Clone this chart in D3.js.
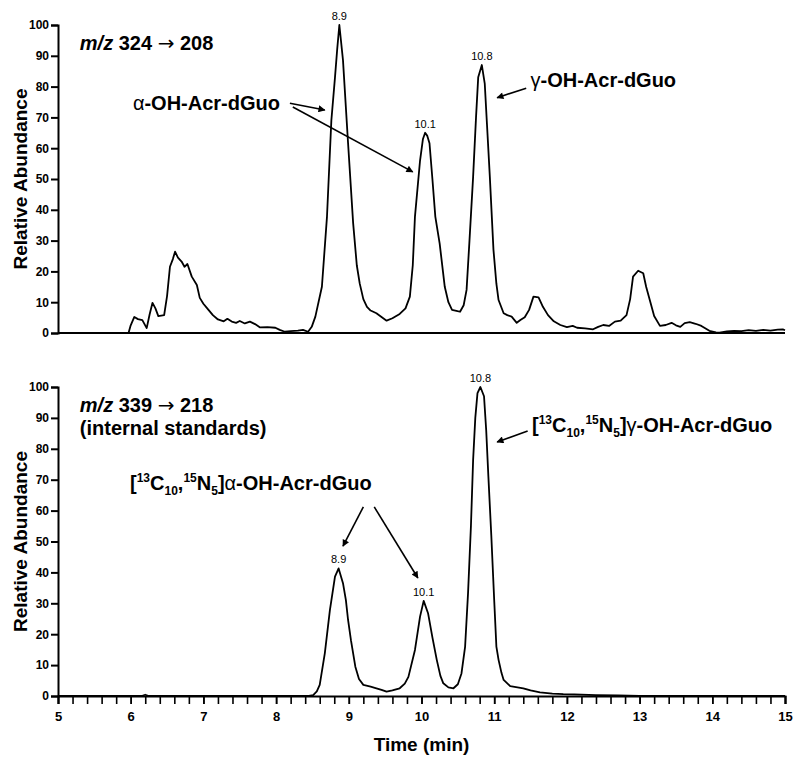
<!DOCTYPE html>
<html>
<head>
<meta charset="utf-8">
<script src="https://cdn.jsdelivr.net/npm/d3@7"></script>
<style>
body { margin:0; background:#fff; }
text { font-family: "Liberation Sans", Arial, sans-serif; fill:#000; }
</style>
</head>
<body>
<div id="chart"></div>
<script>
// time (min), relative abundance
var topTrace = [[5.0,0],[5.97,0],[6.0,2.5],[6.05,5.2],[6.1,4.5],[6.16,4.2],[6.22,1.6],[6.26,6],[6.30,9.8],[6.34,8],[6.38,5.5],[6.46,5.8],[6.50,12],[6.54,21.5],[6.58,24],[6.61,26.4],[6.65,24.5],[6.70,23.2],[6.74,21.5],[6.78,22.4],[6.84,18.3],[6.91,15.6],[6.95,11.4],[7.0,9.5],[7.07,7.5],[7.13,5.8],[7.2,4.4],[7.28,3.8],[7.33,4.6],[7.39,3.7],[7.45,3.3],[7.5,3.9],[7.57,3.1],[7.64,3.7],[7.71,2.9],[7.78,1.8],[7.88,1.9],[7.99,1.7],[8.05,1.0],[8.12,0.4],[8.2,0.6],[8.3,0.8],[8.37,1.0],[8.44,0.4],[8.49,2],[8.54,5.3],[8.63,15],[8.70,37.8],[8.76,69],[8.81,83],[8.84,92],[8.87,100],[8.92,88.6],[8.99,61.6],[9.06,35.6],[9.11,22],[9.15,16.1],[9.2,11],[9.25,8.5],[9.3,7.3],[9.38,6.4],[9.45,5.2],[9.52,4.0],[9.6,4.8],[9.7,6.2],[9.78,8],[9.84,11.8],[9.88,22],[9.91,37.8],[9.98,56],[10.02,63],[10.05,65],[10.08,64],[10.11,61.6],[10.15,50],[10.19,37.8],[10.25,29],[10.32,15],[10.37,10],[10.42,7.5],[10.48,7.2],[10.53,6.9],[10.58,9],[10.62,14],[10.66,30],[10.71,50.7],[10.75,70],[10.78,83],[10.83,87],[10.87,81],[10.9,68],[10.94,50.7],[10.99,27],[11.03,16],[11.06,10.7],[11.13,6.4],[11.18,5.8],[11.24,5.3],[11.31,3.3],[11.36,4.2],[11.42,5.1],[11.48,7.5],[11.54,11.8],[11.61,11.6],[11.67,8.5],[11.74,5.8],[11.82,3.8],[11.91,2.6],[12.0,1.9],[12.08,2.3],[12.14,1.7],[12.25,1.5],[12.36,1.2],[12.43,2.0],[12.50,2.6],[12.58,2.3],[12.66,3.7],[12.74,4.0],[12.82,5.8],[12.87,11],[12.91,18.3],[12.98,20.2],[13.05,19.4],[13.09,15],[13.14,10.7],[13.2,5.5],[13.28,2.3],[13.36,2.6],[13.44,3.3],[13.5,2.5],[13.56,2.0],[13.62,3.2],[13.69,3.5],[13.77,3.0],[13.85,2.3],[13.96,0.7],[14.05,0.2],[14.1,0.1],[14.2,0.5],[14.3,0.7],[14.4,0.6],[14.5,0.9],[14.6,0.7],[14.7,1.0],[14.8,0.8],[14.9,1.1],[14.97,1.2],[15,0.9]]

var bottomTrace = [[5,0],[6.15,0],[6.2,0.4],[6.25,0],[8.45,0],[8.51,0.3],[8.56,1.5],[8.60,3.6],[8.67,13.8],[8.74,27.8],[8.81,38.6],[8.86,41.3],[8.92,36.5],[8.96,31],[8.99,24.6],[9.03,18],[9.09,9.5],[9.14,5.5],[9.20,3.6],[9.3,3.0],[9.38,2.5],[9.45,2.0],[9.52,1.4],[9.6,1.8],[9.7,2.5],[9.77,4],[9.82,6.2],[9.91,14.9],[9.98,25.7],[10.03,30.8],[10.09,26.8],[10.15,19],[10.21,11.7],[10.26,6.5],[10.30,4.1],[10.37,2.8],[10.44,2.5],[10.5,3.8],[10.55,7.3],[10.6,16],[10.64,33.2],[10.68,55],[10.71,76.4],[10.74,90],[10.77,98],[10.81,100],[10.86,97],[10.89,86],[10.92,71],[10.96,52],[11.0,31],[11.03,16],[11.06,11.7],[11.1,7.5],[11.13,5.2],[11.22,3.2],[11.3,2.9],[11.40,2.5],[11.5,1.8],[11.63,1.2],[11.8,0.8],[11.95,0.6],[12.1,0.5],[12.4,0.3],[12.7,0.2],[13.0,0],[15,0]]

var xTicks = [5,6,7,8,9,10,11,12,13,14,15]
var yTicks = [0,10,20,30,40,50,60,70,80,90,100]

var topPeaks = [[8.87,100,"8.9"],[10.05,65,"10.1"],[10.83,87,"10.8"]]
var bottomPeaks = [[8.86,41.3,"8.9"],[10.03,30.8,"10.1"],[10.81,100,"10.8"]]

var width = 800, height = 759
var svg = d3.select("#chart").append("svg")
	.attr("width", width)
	.attr("height", height)

svg.append("defs").append("marker")
	.attr("id","arrow")
	.attr("viewBox","0 0 10 10")
	.attr("refX",9).attr("refY",5)
	.attr("markerWidth",10).attr("markerHeight",7)
	.attr("markerUnits","userSpaceOnUse")
	.attr("orient","auto")
	.append("path")
	.attr("d","M0,0 L10,5 L0,10 Z")
	.attr("fill","#000")

var x = d3.scaleLinear().domain([5,15]).range([58,785])
var yTop = d3.scaleLinear().domain([0,100]).range([333,25])
var yBot = d3.scaleLinear().domain([0,100]).range([696,387])

function drawPanel(y, trace, peaks, showX) {
	var g = svg.append("g")

	var yAxis = g.append("g")
		.attr("transform","translate(58,0)")
		.call(d3.axisLeft(y).tickValues(yTicks).tickSize(7).tickPadding(2))
	yAxis.select(".domain").attr("stroke-width",2)
	yAxis.selectAll(".tick line").attr("stroke-width",2)
	yAxis.selectAll("text")
		.style("font-family","Liberation Sans, Arial")
		.style("font-weight","bold")
		.style("font-size","12px")

	if (showX) {
		var minor = d3.range(5,15.001,0.2)
		var xMinor = g.append("g")
			.attr("transform","translate(0,"+y(0)+")")
			.call(d3.axisBottom(x).tickValues(minor).tickSize(8).tickFormat(""))
		xMinor.select(".domain").attr("stroke-width",2)
		xMinor.selectAll(".tick line").attr("stroke-width",1.6)
		var xAxis = g.append("g")
			.attr("transform","translate(0,"+y(0)+")")
			.call(d3.axisBottom(x).tickValues(xTicks).tickSize(8).tickPadding(8).tickFormat(d3.format("d")))
		xAxis.select(".domain").remove()
		xAxis.selectAll(".tick line").attr("stroke-width",1.6)
		xAxis.selectAll("text")
			.style("font-family","Liberation Sans Narrow, Arial Narrow, Liberation Sans")
			.style("font-weight","bold")
			.style("font-size","13px")
	} else {
		g.append("line")
			.attr("x1",x(5)).attr("x2",x(15))
			.attr("y1",y(0)).attr("y2",y(0))
			.attr("stroke","#000").attr("stroke-width",2)
	}

	var line = d3.line()
		.x(function(d){ return x(d[0]) })
		.y(function(d){ return y(d[1]) })
	g.append("path")
		.datum(trace)
		.attr("d",line)
		.attr("fill","none")
		.attr("stroke","#000")
		.attr("stroke-width",1.8)
		.attr("stroke-linejoin","round")

	g.selectAll(".peak")
		.data(peaks)
		.enter()
		.append("text")
		.attr("x",function(d){ return x(d[0]) })
		.attr("y",function(d){ return y(d[1]) - 5 })
		.attr("text-anchor","middle")
		.style("font-size","11px")
		.text(function(d){ return d[2] })

	var mid = (y(0)+y(100))/2
	g.append("text")
		.attr("transform","translate(27,"+mid+") rotate(-90)")
		.attr("text-anchor","middle")
		.style("font-weight","bold")
		.style("font-size","19px")
		.text("Relative Abundance")
	return g
}

drawPanel(yTop, topTrace, topPeaks, false)
drawPanel(yBot, bottomTrace, bottomPeaks, true)

function arrow(y, a, b) {
	svg.append("line")
		.attr("x1",x(a[0])).attr("y1",y(a[1]))
		.attr("x2",x(b[0])).attr("y2",y(b[1]))
		.attr("stroke","#000").attr("stroke-width",1.6)
		.attr("marker-end","url(#arrow)")
}

function title(y, lines) {
	var t = svg.append("text")
		.attr("x",x(5.3)).attr("y",y(91.8))
		.style("font-weight","bold").style("font-size","20px")
	t.append("tspan").style("font-style","italic").text("m/z")
	t.append("tspan").text(" " + lines[0] + " ")
	t.append("tspan").style("font-family","DejaVu Sans").style("font-weight","normal").text("\u2192")
	t.append("tspan").text(" " + lines[1])
	if (lines[2]) {
		svg.append("text")
			.attr("x",x(5.3)).attr("y",y(91.8)+23)
			.style("font-weight","bold").style("font-size","20px")
			.text(lines[2])
	}
}

function label(y, pos, greek, labeled) {
	var t = svg.append("text")
		.attr("x",x(pos[0])).attr("y",y(pos[1]))
		.style("font-weight","bold").style("font-size","20px")
	if (labeled) {
		t.append("tspan").text("[")
		t.append("tspan").attr("dy",-8).style("font-size","12px").text("13")
		t.append("tspan").attr("dy",8).text("C")
		t.append("tspan").attr("dy",5).style("font-size","12px").text("10")
		t.append("tspan").attr("dy",-5).text(",")
		t.append("tspan").attr("dy",-8).style("font-size","12px").text("15")
		t.append("tspan").attr("dy",8).text("N")
		t.append("tspan").attr("dy",5).style("font-size","12px").text("5")
		t.append("tspan").attr("dy",-5).text("]")
	}
	t.append("tspan").style("font-weight","normal").text(greek)
	t.append("tspan").text("-OH-Acr-dGuo")
}

// top panel annotations
title(yTop, ["324", "208"])
label(yTop, [6.03,72.4], "\u03b1", false)
arrow(yTop, [8.19,74.6], [8.67,72.4])
arrow(yTop, [8.23,73.4], [9.88,52.3])
label(yTop, [11.5,79.8], "\u03b3", false)
arrow(yTop, [11.44,79.5], [11.04,76.4])

// bottom panel annotations
title(yBot, ["339", "218", "(internal standards)"])
label(yBot, [11.52,85.4], "\u03b3", true)
arrow(yBot, [11.46,85.8], [11.04,82.2])
label(yBot, [5.99,66.6], "\u03b1", true)
arrow(yBot, [9.20,61.2], [8.92,48.5])
arrow(yBot, [9.35,61.2], [9.95,38.2])

svg.append("text")
	.attr("x",x(10)).attr("y",751)
	.attr("text-anchor","middle")
	.style("font-family","Liberation Sans Narrow, Arial Narrow, Liberation Sans")
	.style("font-weight","bold")
	.style("font-size","19px")
	.text("Time (min)")
</script>
</body>
</html>
